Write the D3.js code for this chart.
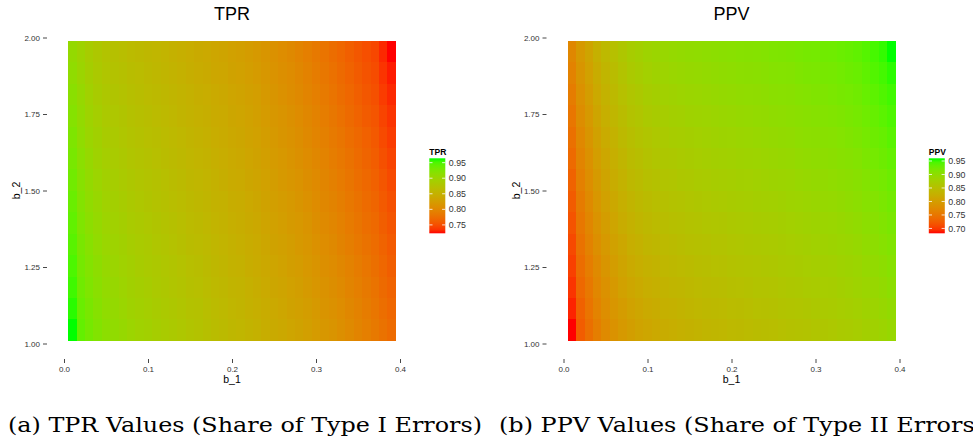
<!DOCTYPE html>
<html>
<head>
<meta charset="utf-8">
<script src="https://cdn.jsdelivr.net/npm/d3@7"></script>
<style>
  html, body { margin: 0; padding: 0; background: #fff; }
  svg { display: block; }
</style>
</head>
<body>
<svg id="chart" width="973" height="440"></svg>
<script>
// Simulation grid: b_1 along x, b_2 along y
const b1Values = [0.01, 0.02, 0.03, 0.04, 0.05, 0.06, 0.07, 0.08, 0.09, 0.10,
                  0.11, 0.12, 0.13, 0.14, 0.15, 0.16, 0.17, 0.18, 0.19, 0.20,
                  0.21, 0.22, 0.23, 0.24, 0.25, 0.26, 0.27, 0.28, 0.29, 0.30,
                  0.31, 0.32, 0.33, 0.34, 0.35, 0.36, 0.37, 0.38, 0.39];
const b2Values = [1.045, 1.115, 1.185, 1.255, 1.325, 1.395, 1.465,
                  1.535, 1.605, 1.675, 1.745, 1.815, 1.885, 1.955];

// TPR: one list per b_1 value, entries follow b2Values (bottom to top)
const tprByColumn = [
  [.964,.960,.955,.951,.946,.942,.938,.933,.929,.925,.920,.916,.911,.907],
  [.941,.938,.934,.931,.928,.924,.921,.918,.915,.911,.908,.905,.901,.898],
  [.931,.928,.924,.921,.918,.914,.911,.908,.905,.901,.898,.895,.891,.888],
  [.922,.919,.916,.913,.909,.906,.903,.900,.897,.894,.890,.887,.884,.881],
  [.914,.911,.908,.905,.902,.899,.896,.893,.890,.887,.884,.881,.878,.875],
  [.910,.907,.904,.901,.898,.895,.892,.889,.886,.883,.880,.877,.874,.871],
  [.905,.902,.899,.896,.894,.891,.888,.885,.882,.879,.877,.874,.871,.868],
  [.900,.897,.894,.892,.889,.886,.883,.881,.878,.875,.872,.870,.867,.864],
  [.896,.893,.891,.888,.886,.883,.880,.878,.875,.872,.870,.867,.865,.862],
  [.893,.890,.888,.885,.883,.880,.877,.875,.872,.869,.867,.864,.862,.859],
  [.889,.887,.884,.882,.879,.877,.874,.872,.869,.867,.864,.862,.859,.857],
  [.886,.884,.881,.879,.876,.874,.871,.869,.866,.864,.861,.859,.856,.854],
  [.883,.881,.878,.876,.873,.871,.868,.866,.863,.861,.858,.856,.853,.851],
  [.880,.878,.875,.873,.870,.868,.865,.863,.860,.858,.855,.853,.850,.848],
  [.876,.874,.871,.869,.866,.864,.862,.859,.857,.855,.852,.850,.847,.845],
  [.874,.872,.869,.867,.864,.862,.859,.857,.854,.852,.849,.847,.844,.842],
  [.870,.868,.865,.863,.861,.858,.856,.854,.852,.849,.847,.845,.842,.840],
  [.866,.864,.861,.859,.857,.854,.852,.850,.848,.845,.843,.841,.838,.836],
  [.863,.861,.859,.856,.854,.852,.850,.847,.845,.843,.841,.839,.836,.834],
  [.859,.857,.855,.852,.850,.848,.846,.843,.841,.839,.837,.835,.832,.830],
  [.857,.855,.853,.850,.848,.846,.844,.841,.839,.837,.835,.833,.830,.828],
  [.853,.851,.849,.846,.844,.842,.840,.837,.835,.833,.831,.829,.826,.824],
  [.850,.848,.846,.843,.841,.839,.837,.834,.832,.830,.828,.826,.823,.821],
  [.846,.844,.841,.839,.837,.834,.832,.830,.828,.825,.823,.821,.818,.816],
  [.842,.840,.837,.835,.832,.830,.828,.825,.823,.821,.818,.816,.813,.811],
  [.839,.836,.834,.831,.829,.826,.824,.821,.819,.816,.814,.811,.809,.806],
  [.835,.832,.830,.827,.825,.822,.820,.817,.815,.812,.810,.807,.805,.802],
  [.832,.829,.827,.824,.821,.819,.816,.813,.810,.808,.805,.802,.800,.797],
  [.828,.825,.822,.819,.817,.814,.811,.808,.805,.802,.800,.797,.794,.791],
  [.823,.820,.817,.814,.811,.808,.805,.803,.800,.797,.794,.791,.788,.785],
  [.818,.815,.812,.809,.806,.803,.800,.798,.795,.792,.789,.786,.783,.780],
  [.814,.811,.808,.805,.802,.799,.796,.792,.789,.786,.783,.780,.777,.774],
  [.809,.806,.803,.800,.796,.793,.790,.787,.784,.781,.777,.774,.771,.768],
  [.803,.800,.797,.794,.790,.787,.784,.781,.778,.775,.771,.768,.765,.762],
  [.797,.794,.791,.788,.784,.781,.778,.775,.772,.769,.765,.762,.759,.756],
  [.791,.788,.785,.782,.778,.775,.772,.769,.766,.763,.759,.756,.753,.750],
  [.785,.782,.779,.776,.773,.770,.767,.763,.760,.757,.754,.751,.748,.745],
  [.778,.775,.771,.768,.765,.761,.758,.755,.751,.747,.743,.739,.735,.731],
  [.772,.768,.765,.761,.758,.754,.751,.747,.743,.739,.735,.731,.727,.723]
];

// PPV: same layout
const ppvByColumn = [
  [.682,.689,.696,.703,.709,.716,.723,.730,.737,.744,.750,.757,.764,.771],
  [.724,.729,.735,.740,.746,.751,.756,.762,.767,.772,.778,.783,.789,.794],
  [.743,.748,.753,.758,.764,.769,.774,.779,.784,.789,.795,.800,.805,.810],
  [.760,.765,.770,.775,.781,.786,.791,.796,.801,.806,.812,.817,.822,.827],
  [.774,.779,.784,.789,.795,.800,.805,.810,.815,.820,.826,.831,.836,.841],
  [.785,.790,.795,.800,.806,.811,.816,.821,.826,.831,.837,.842,.847,.852],
  [.794,.799,.805,.810,.815,.821,.826,.831,.836,.842,.847,.852,.858,.863],
  [.802,.807,.813,.818,.824,.829,.834,.840,.845,.850,.856,.861,.867,.872],
  [.808,.813,.819,.824,.829,.835,.840,.845,.850,.856,.861,.866,.872,.877],
  [.813,.818,.824,.829,.835,.840,.845,.851,.856,.861,.867,.872,.878,.883],
  [.817,.822,.828,.833,.839,.844,.849,.855,.860,.865,.871,.876,.882,.887],
  [.822,.827,.832,.838,.843,.848,.853,.859,.864,.869,.874,.880,.885,.890],
  [.824,.829,.835,.840,.845,.851,.856,.861,.866,.872,.877,.882,.888,.893],
  [.827,.832,.837,.843,.848,.853,.858,.864,.869,.874,.879,.885,.890,.895],
  [.830,.835,.840,.845,.851,.856,.861,.866,.871,.876,.882,.887,.892,.897],
  [.833,.838,.843,.848,.853,.858,.863,.868,.873,.878,.883,.888,.893,.898],
  [.835,.840,.845,.850,.855,.860,.865,.870,.875,.880,.885,.890,.895,.900],
  [.837,.842,.847,.852,.857,.862,.867,.872,.877,.882,.887,.892,.897,.902],
  [.838,.843,.848,.853,.858,.863,.868,.874,.879,.884,.889,.894,.899,.904],
  [.841,.846,.851,.856,.861,.866,.871,.875,.880,.885,.890,.895,.900,.905],
  [.842,.847,.852,.857,.862,.867,.872,.877,.882,.887,.892,.897,.902,.907],
  [.844,.849,.854,.859,.864,.869,.874,.878,.883,.888,.893,.898,.903,.908],
  [.847,.852,.857,.861,.866,.871,.876,.880,.885,.890,.895,.899,.904,.909],
  [.848,.853,.858,.863,.867,.872,.877,.882,.887,.892,.896,.901,.906,.911],
  [.849,.854,.859,.864,.869,.874,.879,.884,.889,.894,.899,.904,.909,.914],
  [.852,.857,.862,.867,.871,.876,.881,.886,.891,.896,.900,.905,.910,.915],
  [.854,.859,.864,.868,.873,.878,.883,.887,.892,.897,.902,.906,.911,.916],
  [.856,.861,.866,.871,.875,.880,.885,.890,.895,.900,.904,.909,.914,.919],
  [.858,.863,.868,.873,.877,.882,.887,.892,.897,.902,.906,.911,.916,.921],
  [.861,.866,.870,.875,.880,.884,.889,.894,.899,.903,.908,.913,.917,.922],
  [.863,.868,.873,.877,.882,.887,.892,.896,.901,.906,.911,.915,.920,.925],
  [.865,.870,.874,.879,.884,.888,.893,.898,.903,.907,.912,.917,.921,.926],
  [.868,.873,.877,.882,.887,.891,.896,.901,.906,.910,.915,.920,.924,.929],
  [.870,.875,.880,.884,.889,.894,.899,.903,.908,.913,.918,.922,.927,.932],
  [.873,.878,.883,.887,.892,.897,.902,.906,.911,.916,.921,.925,.930,.935],
  [.877,.882,.887,.892,.897,.902,.907,.911,.916,.921,.926,.931,.936,.941],
  [.881,.886,.891,.896,.901,.906,.911,.917,.922,.927,.932,.937,.942,.947],
  [.886,.891,.896,.901,.907,.912,.917,.922,.927,.932,.938,.943,.948,.953],
  [.891,.896,.902,.907,.912,.918,.923,.928,.933,.939,.944,.949,.955,.960]
];

const xTicks = [0, 0.1, 0.2, 0.3, 0.4];
const yTicks = [1, 1.25, 1.5, 1.75, 2];
const tprLegendTicks = [0.75, 0.80, 0.85, 0.90, 0.95];
const ppvLegendTicks = [0.70, 0.75, 0.80, 0.85, 0.90, 0.95];

const b1Step = 0.01;
const b2Step = 0.07;

const svg = d3.select("#chart");
svg.append("rect").attr("width", 973).attr("height", 440).attr("fill", "#fff");
const defs = svg.append("defs");

const FONT = "'Liberation Sans', Arial, Helvetica, sans-serif";

function drawPanel(offsetX, title, columns, legendTicks, idx) {
  const g = svg.append("g").attr("transform", `translate(${offsetX},0)`);

  const x = d3.scaleLinear().domain([0, 0.4]).range([64, 400]);
  const y = d3.scaleLinear().domain([1, 2]).range([343.5, 37.5]);

  const cells = [];
  columns.forEach((col, j) => col.forEach((v, i) => cells.push({ b1: b1Values[j], b2: b2Values[i], v })));

  const ext = d3.extent(cells, d => d.v);
  const color = d3.scaleLinear().domain(ext).range(["#ff0000", "#00ff00"]).interpolate(d3.interpolateLab);

  // raster tiles
  g.append("g").selectAll("rect").data(cells).join("rect")
    .attr("x", d => x(d.b1 - b1Step / 2))
    .attr("y", d => y(d.b2 + b2Step / 2))
    .attr("width", d => x(d.b1 + b1Step / 2) - x(d.b1 - b1Step / 2) + 0.4)
    .attr("height", d => y(d.b2 - b2Step / 2) - y(d.b2 + b2Step / 2) + 0.4)
    .attr("fill", d => color(d.v))
    .attr("shape-rendering", "crispEdges");

  // axes
  const xAxis = g.append("g").attr("transform", "translate(0,359)")
    .call(d3.axisBottom(x).tickValues(xTicks).tickFormat(d3.format(".1f")).tickSize(4).tickPadding(3));
  const yAxis = g.append("g").attr("transform", "translate(47,0)")
    .call(d3.axisLeft(y).tickValues(yTicks).tickFormat(d3.format(".2f")).tickSize(4).tickPadding(3));
  [xAxis, yAxis].forEach(a => {
    a.select(".domain").remove();
    a.selectAll(".tick line").attr("stroke", "#333").attr("stroke-width", 0.9);
    a.selectAll(".tick text").attr("font-family", FONT).attr("font-size", 8).attr("fill", "#333");
  });

  // titles
  g.append("text").attr("x", 232).attr("y", 19.5).attr("text-anchor", "middle")
    .attr("font-family", FONT).attr("font-size", 18).attr("fill", "#000").text(title);
  g.append("text").attr("x", 232).attr("y", 383).attr("text-anchor", "middle")
    .attr("font-family", FONT).attr("font-size", 10.5).attr("fill", "#000").text("b_1");
  g.append("text").attr("transform", "translate(20,190.5) rotate(-90)").attr("text-anchor", "middle")
    .attr("font-family", FONT).attr("font-size", 10.5).attr("fill", "#000").text("b_2");

  // colour bar
  const lx = 429.3, lw = 16;
  const ly = d3.scaleLinear().domain(ext).range([233.3, 158.3]);
  const gradId = "grad" + idx;
  const grad = defs.append("linearGradient").attr("id", gradId)
    .attr("x1", 0).attr("y1", 1).attr("x2", 0).attr("y2", 0);
  d3.range(0, 21).forEach(k => {
    const t = k / 20;
    grad.append("stop").attr("offset", t).attr("stop-color", color(ext[0] + t * (ext[1] - ext[0])));
  });
  const lg = g.append("g");
  lg.append("rect").attr("x", lx).attr("y", 158.3).attr("width", lw).attr("height", 75).attr("fill", `url(#${gradId})`);
  legendTicks.forEach(v => {
    const yy = ly(v);
    lg.append("line").attr("x1", lx).attr("x2", lx + 3.2).attr("y1", yy).attr("y2", yy).attr("stroke", "#fff").attr("stroke-width", 0.8);
    lg.append("line").attr("x1", lx + lw - 3.2).attr("x2", lx + lw).attr("y1", yy).attr("y2", yy).attr("stroke", "#fff").attr("stroke-width", 0.8);
    lg.append("text").attr("x", lx + lw + 3.5).attr("y", yy).attr("dy", "0.35em")
      .attr("font-family", FONT).attr("font-size", 8.8).attr("fill", "#333").text(d3.format(".2f")(v));
  });
  lg.append("text").attr("x", lx).attr("y", 154.5).attr("font-family", FONT).attr("font-size", 8.5)
    .attr("font-weight", "bold").attr("fill", "#000").text(title);
}

drawPanel(0, "TPR", tprByColumn, tprLegendTicks, 0);
drawPanel(499.5, "PPV", ppvByColumn, ppvLegendTicks, 1);

// sub-figure captions
const CAP = "'DejaVu Serif', 'Liberation Serif', serif";
svg.append("text").attr("x", 8).attr("y", 432).attr("font-family", CAP).attr("font-size", 21)
  .attr("textLength", 474).attr("lengthAdjust", "spacingAndGlyphs").attr("fill", "#000")
  .text("(a) TPR Values (Share of Type I Errors)");
svg.append("text").attr("x", 499).attr("y", 432).attr("font-family", CAP).attr("font-size", 21)
  .attr("textLength", 485).attr("lengthAdjust", "spacingAndGlyphs").attr("fill", "#000")
  .text("(b) PPV Values (Share of Type II Errors)");
</script>
</body>
</html>
